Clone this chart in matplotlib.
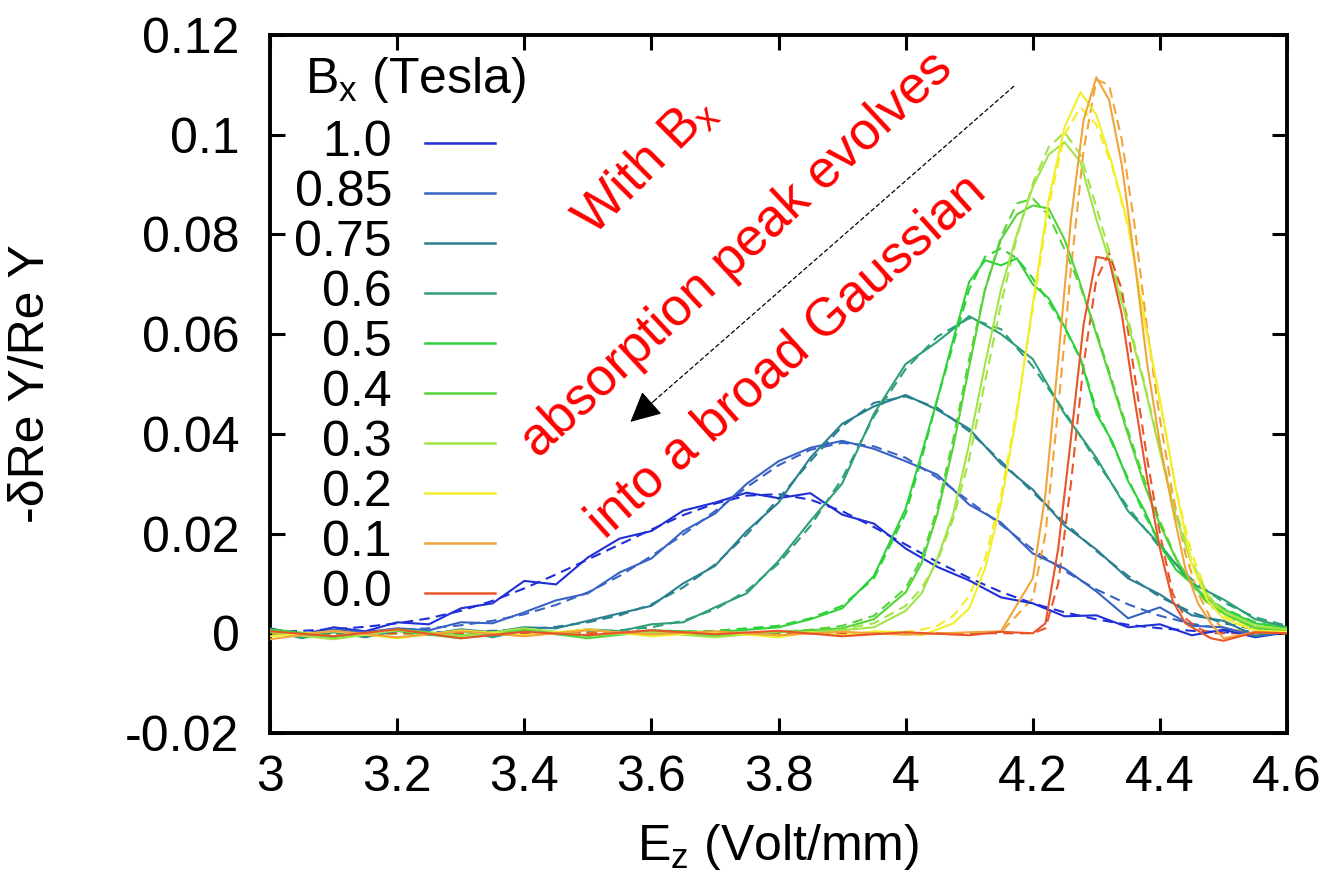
import matplotlib
matplotlib.use("Agg")
import matplotlib.pyplot as plt

plt.rcParams["font.family"] = ["Liberation Sans", "DejaVu Sans"]
plt.rcParams["mathtext.fontset"] = "custom"
plt.rcParams["mathtext.rm"] = "Liberation Sans"

# ---- data ----
bx_labels = ["1.0", "0.85", "0.75", "0.6", "0.5", "0.4", "0.3", "0.2", "0.1", "0.0"]
colors = ["#1f2fd6", "#3863c4", "#2a8090", "#2e9f78", "#2fd23a",
          "#55d43a", "#a2e448", "#f2ee2a", "#f0a43a", "#e9552a"]

# broad curves (B = 1.0 .. 0.6)
x_broad = [3.0, 3.05, 3.1, 3.15, 3.2, 3.25, 3.3, 3.35, 3.4, 3.45, 3.5, 3.55,
           3.6, 3.65, 3.7, 3.75, 3.8, 3.85, 3.9, 3.95, 4.0, 4.05, 4.1, 4.15,
           4.2, 4.25, 4.3, 4.35, 4.4, 4.45, 4.5, 4.55, 4.6]

meas_10 = [0.0010, -0.0003, 0.0012, 0.0004, 0.0022, 0.0018, 0.0050, 0.0060, 0.0105, 0.0098, 0.0152,
           0.0190, 0.0205, 0.0246, 0.0262, 0.0282, 0.0271, 0.0281, 0.0238, 0.0220, 0.0170, 0.0133,
           0.0106, 0.0072, 0.0060, 0.0034, 0.0036, 0.0012, 0.0018, -0.0004, 0.0007, -0.0008, 0.0002]
fit_10 = [0.0002, 0.0005, 0.0008, 0.0013, 0.0020, 0.0030, 0.0045, 0.0065, 0.0090, 0.0118, 0.0148,
          0.0178, 0.0208, 0.0237, 0.0260, 0.0276, 0.0279, 0.0268, 0.0245, 0.0213, 0.0178, 0.0143,
          0.0111, 0.0083, 0.0060, 0.0042, 0.0028, 0.0017, 0.0010, 0.0005, 0.0002, 0.0001, 0.0]

meas_085 = [0.0006, -0.0005, 0.0008, 0.0002, 0.0010, 0.0006, 0.0022, 0.0020, 0.0042, 0.0066, 0.0080,
            0.0122, 0.0150, 0.0205, 0.0240, 0.0300, 0.0345, 0.0372, 0.0386, 0.0370, 0.0345, 0.0318,
            0.0258, 0.0222, 0.0160, 0.0130, 0.0084, 0.0030, 0.0052, 0.0015, 0.0012, -0.0006, 0.0003]
fit_085 = [0.0, 0.0, 0.0002, 0.0004, 0.0006, 0.0010, 0.0016, 0.0025, 0.0038, 0.0057, 0.0082,
           0.0115, 0.0155, 0.0198, 0.0245, 0.0293, 0.0337, 0.0368, 0.0382, 0.0375, 0.0352, 0.0312,
           0.0265, 0.0218, 0.0168, 0.0125, 0.0088, 0.0058, 0.0035, 0.0019, 0.0009, 0.0003, 0.0]

meas_075 = [0.0004, -0.0006, 0.0002, -0.0008, 0.0005, -0.0002, 0.0008, 0.0002, 0.0012, 0.0010, 0.0025,
            0.0040, 0.0055, 0.0100, 0.0135, 0.0205, 0.0262, 0.0352, 0.0420, 0.0455, 0.0478, 0.0448,
            0.0410, 0.0340, 0.0288, 0.0216, 0.0168, 0.0110, 0.0078, 0.0036, 0.0025, -0.0005, 0.0004]
fit_075 = [0.0, 0.0, 0.0, 0.0, 0.0001, 0.0002, 0.0003, 0.0005, 0.0008, 0.0013, 0.0022,
           0.0036, 0.0058, 0.0092, 0.0138, 0.0198, 0.0270, 0.0345, 0.0415, 0.0462, 0.0475, 0.0452,
           0.0405, 0.0345, 0.0283, 0.0222, 0.0165, 0.0115, 0.0073, 0.0042, 0.0020, 0.0008, 0.0002]

meas_06 = [0.0006, -0.0010, 0.0004, -0.0006, 0.0008, -0.0004, 0.0005, -0.0008, 0.0006, 0.0, 0.0008,
           0.0004, 0.0018, 0.0022, 0.0052, 0.0080, 0.0145, 0.0225, 0.0300, 0.0440, 0.0540, 0.0585,
           0.0636, 0.0600, 0.0550, 0.0440, 0.0352, 0.0245, 0.0178, 0.0100, 0.0068, 0.0028, 0.0012]
fit_06 = [0.0, 0.0, 0.0, 0.0, 0.0, 0.0, 0.0, 0.0, 0.0001, 0.0002, 0.0003,
          0.0006, 0.0012, 0.0025, 0.0048, 0.0085, 0.0140, 0.0215, 0.0310, 0.0435, 0.0530, 0.0595,
          0.0632, 0.0610, 0.0535, 0.0445, 0.0345, 0.0252, 0.0172, 0.0108, 0.0062, 0.0032, 0.0015]

# medium curves (B = 0.5 .. 0.2)
x_mid = [3.0, 3.1, 3.2, 3.3, 3.4, 3.5, 3.6, 3.7, 3.8, 3.85, 3.9, 3.95, 4.0, 4.025, 4.05,
         4.075, 4.1, 4.125, 4.15, 4.175, 4.2, 4.225, 4.25, 4.275, 4.3, 4.325, 4.35,
         4.375, 4.4, 4.425, 4.45, 4.475, 4.5, 4.55, 4.6]

meas_05 = [0.0008, -0.0006, 0.0005, -0.0010, 0.0004, -0.0005, 0.0006, 0.0002, 0.0012, 0.0028, 0.0050,
           0.0115, 0.0250, 0.0360, 0.0470, 0.0590, 0.0705, 0.0748, 0.0738, 0.0752, 0.0700, 0.0672,
           0.0615, 0.0552, 0.0440, 0.0385, 0.0305, 0.0248, 0.0178, 0.0128, 0.0100, 0.0068, 0.0048,
           0.0020, 0.0010]
fit_05 = [0.0, 0.0, 0.0, 0.0, 0.0, 0.0, 0.0001, 0.0005, 0.0015, 0.0030, 0.0055,
          0.0110, 0.0240, 0.0350, 0.0470, 0.0580, 0.0690, 0.0755, 0.0772, 0.0752, 0.0712, 0.0665,
          0.0612, 0.0550, 0.0450, 0.0380, 0.0310, 0.0240, 0.0180, 0.0130, 0.0100, 0.0070, 0.0050,
          0.0022, 0.0010]

meas_04 = [0.0005, -0.0008, 0.0008, -0.0004, 0.0006, -0.0010, 0.0004, -0.0006, 0.0002, 0.0006, 0.0010,
           0.0028, 0.0082, 0.0140, 0.0240, 0.0375, 0.0535, 0.0690, 0.0790, 0.0840, 0.0858, 0.0852,
           0.0790, 0.0700, 0.0600, 0.0500, 0.0398, 0.0300, 0.0218, 0.0150, 0.0100, 0.0062, 0.0040,
           0.0010, 0.0006]
fit_04 = [0.0, 0.0, 0.0, 0.0, 0.0, 0.0, 0.0, 0.0, 0.0003, 0.0007, 0.0015,
          0.0035, 0.0090, 0.0150, 0.0250, 0.0390, 0.0550, 0.0690, 0.0795, 0.0862, 0.0872, 0.0838,
          0.0770, 0.0695, 0.0605, 0.0505, 0.0405, 0.0310, 0.0225, 0.0152, 0.0098, 0.0060, 0.0035,
          0.0012, 0.0004]

meas_03 = [0.0002, -0.0012, 0.0006, -0.0006, 0.0010, -0.0004, 0.0002, -0.0008, 0.0004, 0.0002, 0.0006,
           0.0012, 0.0045, 0.0080, 0.0150, 0.0240, 0.0380, 0.0540, 0.0690, 0.0800, 0.0895, 0.0960,
           0.0985, 0.0945, 0.0830, 0.0730, 0.0620, 0.0500, 0.0365, 0.0235, 0.0140, 0.0072, 0.0045,
           0.0015, 0.0008]
fit_03 = [0.0, 0.0, 0.0, 0.0, 0.0, 0.0, 0.0, 0.0, 0.0001, 0.0003, 0.0008,
          0.0020, 0.0055, 0.0090, 0.0145, 0.0230, 0.0350, 0.0505, 0.0660, 0.0795, 0.0902, 0.0975,
          0.1005, 0.0960, 0.0855, 0.0745, 0.0630, 0.0505, 0.0370, 0.0245, 0.0145, 0.0078, 0.0040,
          0.0012, 0.0004]

meas_02 = [-0.0006, 0.0004, -0.0010, 0.0006, -0.0004, 0.0008, -0.0006, 0.0003, -0.0008, 0.0002, -0.0005,
           0.0004, 0.0002, -0.0004, 0.0008, 0.0020, 0.0050, 0.0130, 0.0260, 0.0440, 0.0660, 0.0870,
           0.1015, 0.1085, 0.1040, 0.0940, 0.0820, 0.0630, 0.0470, 0.0290, 0.0140, 0.0065, 0.0030,
           0.0005, 0.0003]
fit_02 = [0.0, 0.0, 0.0, 0.0, 0.0, 0.0, 0.0, 0.0, 0.0, 0.0, 0.0,
          0.0001, 0.0003, 0.0007, 0.0015, 0.0035, 0.0075, 0.0150, 0.0275, 0.0450, 0.0650, 0.0855,
          0.1000, 0.1055, 0.1020, 0.0935, 0.0815, 0.0640, 0.0465, 0.0290, 0.0160, 0.0078, 0.0035,
          0.0010, 0.0002]

# narrow curves (B = 0.1, 0.0)
x_narrow = [3.0, 3.1, 3.2, 3.3, 3.4, 3.5, 3.6, 3.7, 3.8, 3.9, 4.0, 4.1, 4.15, 4.2, 4.22,
            4.24, 4.26, 4.28, 4.3, 4.32, 4.34, 4.36, 4.38, 4.4, 4.42, 4.44, 4.46, 4.48,
            4.5, 4.55, 4.6]

meas_01 = [-0.0012, 0.0005, -0.0008, 0.0004, -0.0006, 0.0006, -0.0002, 0.0004, -0.0004, 0.0003, -0.0003,
           0.0002, 0.0004, 0.0110, 0.0280, 0.0550, 0.0830, 0.1030, 0.1115, 0.1070, 0.0940, 0.0750,
           0.0540, 0.0380, 0.0250, 0.0130, 0.0060, 0.0020, -0.0010, 0.0002, 0.0]
fit_01 = [0.0, 0.0, 0.0, 0.0, 0.0, 0.0, 0.0, 0.0, 0.0, 0.0, 0.0,
          0.0, 0.0002, 0.0070, 0.0200, 0.0450, 0.0730, 0.0970, 0.1110, 0.1100, 0.0990, 0.0820,
          0.0610, 0.0430, 0.0280, 0.0160, 0.0080, 0.0030, 0.0010, 0.0, 0.0]

meas_00 = [0.0004, -0.0006, 0.0008, -0.0010, 0.0003, -0.0004, 0.0006, -0.0002, 0.0005, -0.0006, 0.0002,
           -0.0004, 0.0003, 0.0, 0.0020, 0.0170, 0.0390, 0.0620, 0.0755, 0.0750, 0.0640, 0.0470,
           0.0310, 0.0170, 0.0065, 0.0020, 0.0005, -0.0010, -0.0015, 0.0002, 0.0]
fit_00 = [0.0, 0.0, 0.0, 0.0, 0.0, 0.0, 0.0, 0.0, 0.0, 0.0, 0.0,
          0.0, 0.0, 0.0, 0.0010, 0.0100, 0.0300, 0.0540, 0.0710, 0.0762, 0.0690, 0.0520,
          0.0350, 0.0200, 0.0080, 0.0030, 0.0010, 0.0, 0.0, 0.0, 0.0]

curves = [
    (x_broad, meas_10, fit_10),
    (x_broad, meas_085, fit_085),
    (x_broad, meas_075, fit_075),
    (x_broad, meas_06, fit_06),
    (x_mid, meas_05, fit_05),
    (x_mid, meas_04, fit_04),
    (x_mid, meas_03, fit_03),
    (x_mid, meas_02, fit_02),
    (x_narrow, meas_01, fit_01),
    (x_narrow, meas_00, fit_00),
]

FS = 36

# ---- figure ----
fig = plt.figure(figsize=(13.34, 8.81), dpi=100)
ax = fig.add_axes([0.2024, 0.168, 0.7624, 0.7923])

for (xs, meas, fit), col in zip(curves, colors):
    ax.plot(xs, fit, color=col, lw=1.5, linestyle=(0, (5, 3)), zorder=2)
    ax.plot(xs, meas, color=col, lw=1.5, zorder=3)

ax.set_xlim(3, 4.6)
ax.set_ylim(-0.02, 0.12)
ax.set_xticks([3, 3.2, 3.4, 3.6, 3.8, 4, 4.2, 4.4, 4.6])
ax.set_xticklabels(["3", "3.2", "3.4", "3.6", "3.8", "4", "4.2", "4.4", "4.6"])
ax.set_yticks([-0.02, 0, 0.02, 0.04, 0.06, 0.08, 0.1, 0.12])
ax.set_yticklabels(["-0.02", "0", "0.02", "0.04", "0.06", "0.08", "0.1", "0.12"])
ax.tick_params(direction="in", length=11, width=2.2, top=True, right=True,
               labelsize=FS, pad=16)
ax.tick_params(axis="y", pad=22)
for sp in ax.spines.values():
    sp.set_linewidth(2.8)

ax.set_xlabel(r"E$_\mathregular{z}$ (Volt/mm)", fontsize=FS)
ax.xaxis.set_label_coords(0.5, -0.128)
ax.set_ylabel(r"-δRe Y/Re Y", fontsize=FS)
ax.yaxis.set_label_coords(-0.212, 0.5)

# legend in gnuplot style: labels right aligned, samples to the right
ax.text(0.034, 0.9355, r"B$_\mathregular{x}$ (Tesla)", transform=ax.transAxes,
        fontsize=FS, ha="left", va="center")
row_top = 0.8452
row_step = 0.0716
for i, (lab, col) in enumerate(zip(bx_labels, colors)):
    yy = row_top - i * row_step
    ax.text(0.120, yy, lab, transform=ax.transAxes, fontsize=FS,
            ha="right", va="center")
    ax.plot([0.152, 0.221], [yy, yy], transform=ax.transAxes, color=col, lw=1.8)

# annotation
ax.text(3.59, 0.094, r"With B$_\mathregular{x}$", color="red", fontsize=38,
        rotation=45, rotation_mode="anchor", ha="center", va="center")
ax.text(3.735, 0.076, "absorption peak evolves", color="red", fontsize=38,
        rotation=43, rotation_mode="anchor", ha="center", va="center")
ax.text(3.814, 0.0555, "into a broad Gaussian", color="red", fontsize=38,
        rotation=42, rotation_mode="anchor", ha="center", va="center")

# dotted shaft, then a solid head at the tip
arrow_start = (4.170, 0.1097)
arrow_tip = (3.567, 0.0424)
head_base = (3.605, 0.0467)
ax.annotate("", xy=head_base, xytext=arrow_start,
            arrowprops=dict(arrowstyle="-", color="black", lw=0.9,
                            linestyle=(0, (3, 2.5)), shrinkA=0, shrinkB=0))
ax.annotate("", xy=arrow_tip, xytext=head_base,
            arrowprops=dict(arrowstyle="-|>", color="black", lw=0.8,
                            mutation_scale=48, shrinkA=0, shrinkB=0))

fig.savefig("out.png", dpi=100)
